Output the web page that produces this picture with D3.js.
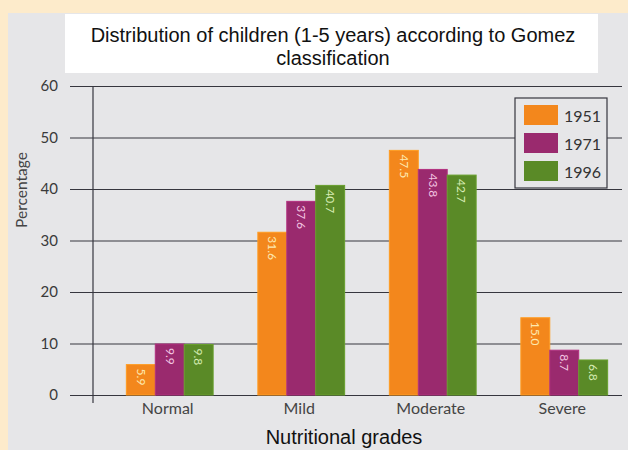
<!DOCTYPE html>
<html>
<head>
<meta charset="utf-8">
<script src="https://cdn.jsdelivr.net/npm/d3@7"></script>
<style>
  html, body { margin: 0; padding: 0; background: #fdebcb; }
  svg { display: block; }
</style>
</head>
<body>
<script>
// Distribution of children (1-5 years) by Gomez nutritional grade
const categories = ["Normal", "Mild", "Moderate", "Severe"];
const years = ["1951", "1971", "1996"];
const values1951 = [5.9, 31.6, 47.5, 15.0];
const values1971 = [9.9, 37.6, 43.8, 8.7];
const values1996 = [9.8, 40.7, 42.7, 6.8];
const yTicks = [0, 10, 20, 30, 40, 50, 60];
const colors = ["#f3871c", "#9a2a6e", "#5a8a27"];
const labelColors = ["#fde9b0", "#f3c6e2", "#d7ecb4"];

const seriesValues = [values1951, values1971, values1996];
const rows = categories.map((c, i) => ({
  category: c,
  bars: years.map((y, j) => ({ year: y, value: seriesValues[j][i], idx: j }))
}));

const W = 628, H = 450;
const humanist = "Lato, 'Open Sans', sans-serif";
const svg = d3.select("body").append("svg").attr("width", W).attr("height", H);

// gray panel
svg.append("rect").attr("x", 8).attr("y", 13).attr("width", W - 8).attr("height", H - 13)
  .attr("fill", "#e6e6e8");

// title box
svg.append("rect").attr("x", 65).attr("y", 14).attr("width", 533).attr("height", 59).attr("fill", "#ffffff");
const title = svg.append("text").attr("text-anchor", "middle")
  .attr("font-family", "Liberation Sans, Arial, sans-serif").attr("font-size", 20).attr("fill", "#111");
title.append("tspan").attr("x", 333).attr("y", 42).text("Distribution of children (1-5 years) according to Gomez");
title.append("tspan").attr("x", 333).attr("y", 65).text("classification");

const y = d3.scaleLinear().domain([0, 60]).range([395, 86]);
const x = d3.scaleBand().domain(categories).range([104, 630]).paddingInner(0.34).paddingOuter(0.17);
const xs = d3.scaleBand().domain(years).range([0, x.bandwidth()]).padding(0);

// horizontal grid lines
const grid = svg.append("g")
  .attr("transform", "translate(70,0)")
  .call(d3.axisLeft(y).tickValues(yTicks).tickSize(-552).tickFormat(""));
grid.select(".domain").remove();
grid.selectAll(".tick line").attr("stroke", "#36363e").attr("stroke-width", 1.2);

// y tick labels
svg.append("g").selectAll("text").data(yTicks).join("text")
  .attr("x", 58).attr("y", d => y(d)).attr("dy", "0.35em")
  .attr("text-anchor", "end")
  .attr("font-family", humanist).attr("font-size", 15)
  .attr("fill", "#3a3a3a").text(d => d);

// vertical axis line
svg.append("line").attr("x1", 93).attr("x2", 93).attr("y1", 86).attr("y2", 403)
  .attr("stroke", "#36363e").attr("stroke-width", 1.2);

// bars
const groups = svg.append("g").selectAll("g").data(rows).join("g")
  .attr("transform", d => `translate(${x(d.category)},0)`);

groups.selectAll("rect").data(d => d.bars).join("rect")
  .attr("x", d => xs(d.year))
  .attr("y", d => y(d.value))
  .attr("width", xs.bandwidth())
  .attr("height", d => y(0) - y(d.value))
  .attr("fill", d => colors[d.idx])
  .attr("stroke", d => d3.color(colors[d.idx]).brighter(0.4))
  .attr("stroke-width", 1);

// value labels, rotated inside the bars
groups.selectAll("text").data(d => d.bars).join("text")
  .attr("transform", d => `translate(${xs(d.year) + xs.bandwidth() / 2},${y(d.value) + 4}) rotate(90)`)
  .attr("dy", "0.35em")
  .attr("font-family", humanist).attr("font-size", 12)
  .attr("fill", d => labelColors[d.idx])
  .text(d => d.value.toFixed(1));

// category labels
svg.append("g").selectAll("text").data(categories).join("text")
  .attr("x", d => x(d) + x.bandwidth() / 2 - 2).attr("y", 414)
  .attr("text-anchor", "middle")
  .attr("font-family", humanist).attr("font-size", 16)
  .attr("fill", "#444").text(d => d);

// axis titles
svg.append("text").attr("x", 344).attr("y", 444).attr("text-anchor", "middle")
  .attr("font-family", "Liberation Sans, Arial, sans-serif").attr("font-size", 20)
  .attr("fill", "#111").text("Nutritional grades");
svg.append("text").attr("transform", "translate(27,190) rotate(-90)")
  .attr("text-anchor", "middle")
  .attr("font-family", humanist).attr("font-size", 15.5)
  .attr("fill", "#444").text("Percentage");

// legend
const lg = svg.append("g").attr("transform", "translate(515,98)");
lg.append("rect").attr("width", 92).attr("height", 90).attr("fill", "#e6e6e8")
  .attr("stroke", "#36363e").attr("stroke-width", 1.2);
const items = lg.selectAll("g").data(years).join("g")
  .attr("transform", (d, i) => `translate(9,${7 + i * 28})`);
items.append("rect").attr("width", 34).attr("height", 20)
  .attr("fill", (d, i) => colors[i]);
items.append("text").attr("x", 40).attr("y", 11).attr("dy", "0.35em")
  .attr("font-family", humanist).attr("font-size", 16)
  .attr("fill", "#333").text(d => d);
</script>
</body>
</html>
